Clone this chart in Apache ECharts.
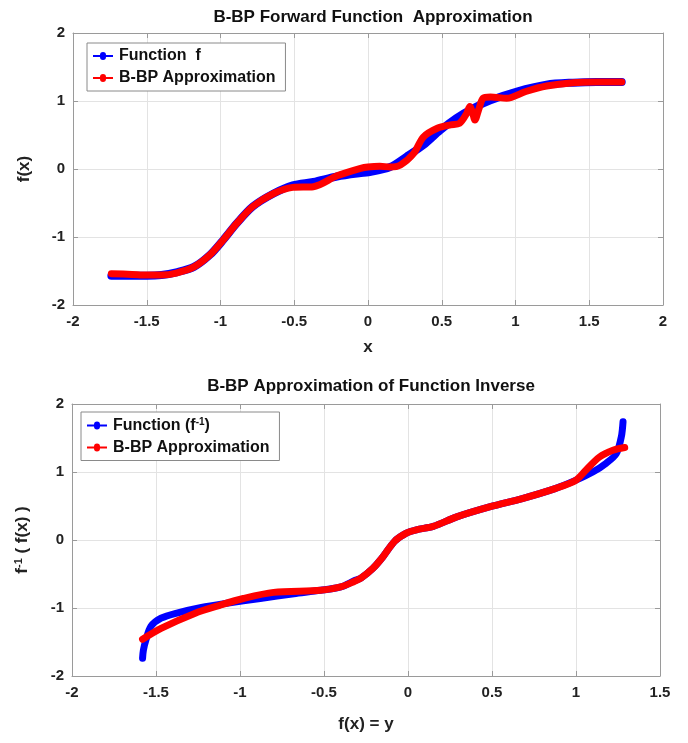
<!DOCTYPE html>
<html><head><meta charset="utf-8">
<script src="https://cdn.jsdelivr.net/npm/echarts@6/dist/echarts.min.js"></script>
<style>html,body{margin:0;padding:0;background:#fff}#c{width:688px;height:743px}</style>
</head><body><div id="c"></div>
<script>
// Top chart: forward function f(x) and B-BP approximation
const fwdX    = [-1.74,-1.6,-1.5,-1.4,-1.3,-1.18,-1.07,-0.98,-0.89,-0.78,-0.64,-0.51,-0.37,-0.21,-0.05,0,0.15,0.26,0.375,0.49,0.6,0.71,0.83,1.01,1.21,1.39,1.55,1.72];
const fwdY    = [-1.57,-1.57,-1.57,-1.56,-1.52,-1.44,-1.26,-1.04,-0.80,-0.55,-0.36,-0.24,-0.19,-0.11,-0.06,-0.05,0.03,0.18,0.35,0.57,0.75,0.89,1.01,1.14,1.24,1.27,1.28,1.28];
const apxX    = [-1.74,-1.6,-1.5,-1.4,-1.3,-1.18,-1.07,-0.98,-0.89,-0.78,-0.64,-0.51,-0.37,-0.21,-0.05,0,0.08,0.15,0.22,0.31,0.375,0.47,0.56,0.62,0.67,0.69,0.71,0.725,0.75,0.78,0.83,0.94,1.07,1.21,1.39,1.55,1.72];
const apxY    = [-1.54,-1.55,-1.56,-1.56,-1.53,-1.44,-1.26,-1.04,-0.80,-0.55,-0.36,-0.27,-0.26,-0.10,0.01,0.03,0.04,0.03,0.06,0.23,0.47,0.60,0.65,0.67,0.82,0.92,0.82,0.72,0.87,1.04,1.06,1.04,1.14,1.22,1.27,1.28,1.28];
// Bottom chart: inverse function and B-BP approximation
const invX    = [-1.58,-1.575,-1.56,-1.53,-1.47,-1.37,-1.23,-1.08,-0.88,-0.68,-0.52,-0.40,-0.32,-0.28,-0.21,-0.15,-0.08,-0.01,0.05,0.15,0.29,0.49,0.68,0.88,1.00,1.10,1.18,1.24,1.27,1.28];
const invY    = [-1.74,-1.62,-1.47,-1.27,-1.15,-1.07,-0.99,-0.93,-0.86,-0.79,-0.74,-0.69,-0.60,-0.56,-0.42,-0.25,-0.02,0.10,0.15,0.20,0.34,0.49,0.61,0.76,0.88,1.00,1.13,1.27,1.52,1.74];
const invApxX = [-1.58,-1.47,-1.27,-1.12,-0.98,-0.80,-0.52,-0.40,-0.32,-0.28,-0.21,-0.15,-0.08,-0.01,0.05,0.15,0.29,0.49,0.68,0.88,1.00,1.06,1.14,1.22,1.29];
const invApxY = [-1.46,-1.30,-1.08,-0.96,-0.86,-0.77,-0.74,-0.69,-0.61,-0.56,-0.42,-0.25,-0.02,0.10,0.15,0.20,0.34,0.49,0.61,0.76,0.88,1.03,1.22,1.32,1.36];

const topTicks = { min: -2, max: 2, interval: 0.5 };
const topYTicks = { min: -2, max: 2, interval: 1 };
const botTicks = { min: -2, max: 1.5, interval: 0.5 };

const zip = (a, b) => a.map((v, i) => [v, b[i]]);
const FONT = 'Liberation Sans';
const BLUE = '#0000ff', RED = '#ff0000';
const axisCol = '#9a9a9a';
const icon = 'path://M0,4 H7 A3,3 0 0,1 13,4 H20 V6 H13 A3,3 0 0,1 7,6 H0 Z';

function xAx(grid, t, pos, name, gap) {
  return {
    type: 'value', gridIndex: grid, position: pos, min: t.min, max: t.max, interval: t.interval,
    name: name || '', nameLocation: 'middle', nameGap: gap || 0,
    nameTextStyle: { fontFamily: FONT, fontWeight: 'bold', fontSize: 17, color: '#222' },
    axisLine: { show: true, onZero: false, lineStyle: { color: axisCol, width: 1 } },
    axisTick: { show: true, inside: true, length: 5, lineStyle: { color: axisCol } },
    axisLabel: { show: pos === 'bottom', fontFamily: FONT, fontWeight: 'bold', fontSize: 15, color: '#222', margin: 9,
      formatter: v => String(v) },
    splitLine: { show: pos === 'bottom', lineStyle: { color: '#e3e3e3', width: 1 } }
  };
}
function yAx(grid, t, pos, name, gap) {
  return {
    type: 'value', gridIndex: grid, position: pos, min: t.min, max: t.max, interval: t.interval,
    name: name || '', nameLocation: 'middle', nameGap: gap || 0, nameRotate: 90,
    nameTextStyle: { fontFamily: FONT, fontWeight: 'bold', fontSize: 17, color: '#222',
      rich: { b: { fontFamily: FONT, fontWeight: 'bold', fontSize: 17, color: '#222' },
              s: { fontFamily: FONT, fontWeight: 'bold', fontSize: 11, color: '#222', verticalAlign: 'top', padding: [0,0,8,0] } } },
    axisLine: { show: true, onZero: false, lineStyle: { color: axisCol, width: 1 } },
    axisTick: { show: true, inside: true, length: 5, lineStyle: { color: axisCol } },
    axisLabel: { show: pos === 'left', fontFamily: FONT, fontWeight: 'bold', fontSize: 15, color: '#222', margin: 8 },
    splitLine: { show: pos === 'left', lineStyle: { color: '#e3e3e3', width: 1 } }
  };
}
function line(name, data, xi, yi, color, w) {
  return { name, type: 'line', data, xAxisIndex: xi, yAxisIndex: yi, smooth: 0.3,
    showSymbol: false, symbol: 'circle', symbolSize: 6, color,
    lineStyle: { color, width: w, cap: 'round', join: 'round' }, itemStyle: { color }, animation: false };
}
function legend(left, top, names) {
  return { left, top, orient: 'vertical', data: names, icon, itemWidth: 22, itemHeight: 8, itemGap: 6,
    borderColor: '#8a8a8a', borderWidth: 1, padding: [5, 10, 5, 6], backgroundColor: '#fff',
    selectedMode: false,
    formatter: n => n === 'Function (f-1)' ? '{t|Function (f}{s|-1}{t|)}' : '{t|' + n + '}',
    textStyle: { fontFamily: FONT, fontWeight: 'bold', fontSize: 16, color: '#111',
      rich: { t: { fontFamily: FONT, fontWeight: 'bold', fontSize: 16, color: '#111' },
              s: { fontFamily: FONT, fontWeight: 'bold', fontSize: 10, color: '#111', verticalAlign: 'top', padding: [0,0,7,0] } } } };
}

const option = {
  backgroundColor: '#fff',
  animation: false,
  title: [
    { text: 'B-BP Forward Function  Approximation', left: 368, top: 4, textAlign: 'center',
      textStyle: { fontFamily: FONT, fontWeight: 'bold', fontSize: 17, color: '#111' } },
    { text: 'B-BP Approximation of Function Inverse', left: 366, top: 373, textAlign: 'center',
      textStyle: { fontFamily: FONT, fontWeight: 'bold', fontSize: 17, color: '#111' } }
  ],
  grid: [
    { left: 73, right: 25, top: 33, height: 272 },
    { left: 72, right: 28, top: 404, height: 272 }
  ],
  legend: [
    legend(87, 43, ['Function  f', 'B-BP Approximation']),
    legend(81, 412, ['Function (f-1)', 'B-BP Approximation'])
  ],
  xAxis: [
    xAx(0, topTicks, 'bottom', 'x', 34),
    xAx(0, topTicks, 'top'),
    xAx(1, botTicks, 'bottom', 'f(x) = y', 40),
    xAx(1, botTicks, 'top')
  ],
  yAxis: [
    yAx(0, topYTicks, 'left', 'f(x)', 40),
    yAx(0, topYTicks, 'right'),
    yAx(1, topYTicks, 'left', '{b|f}{s|-1}{b| ( f(x) )}', 40),
    yAx(1, topYTicks, 'right')
  ],
  series: [
    line('Function  f', zip(fwdX, fwdY), 0, 0, BLUE, 8),
    line('B-BP Approximation', zip(apxX, apxY), 0, 0, RED, 7),
    line('Function (f-1)', zip(invX, invY), 2, 2, BLUE, 7),
    line('B-BP Approximation', zip(invApxX, invApxY), 2, 2, RED, 7)
  ]
};
const chart = echarts.init(document.getElementById('c'), null, { renderer: 'canvas' });
chart.setOption(option);
</script></body></html>
